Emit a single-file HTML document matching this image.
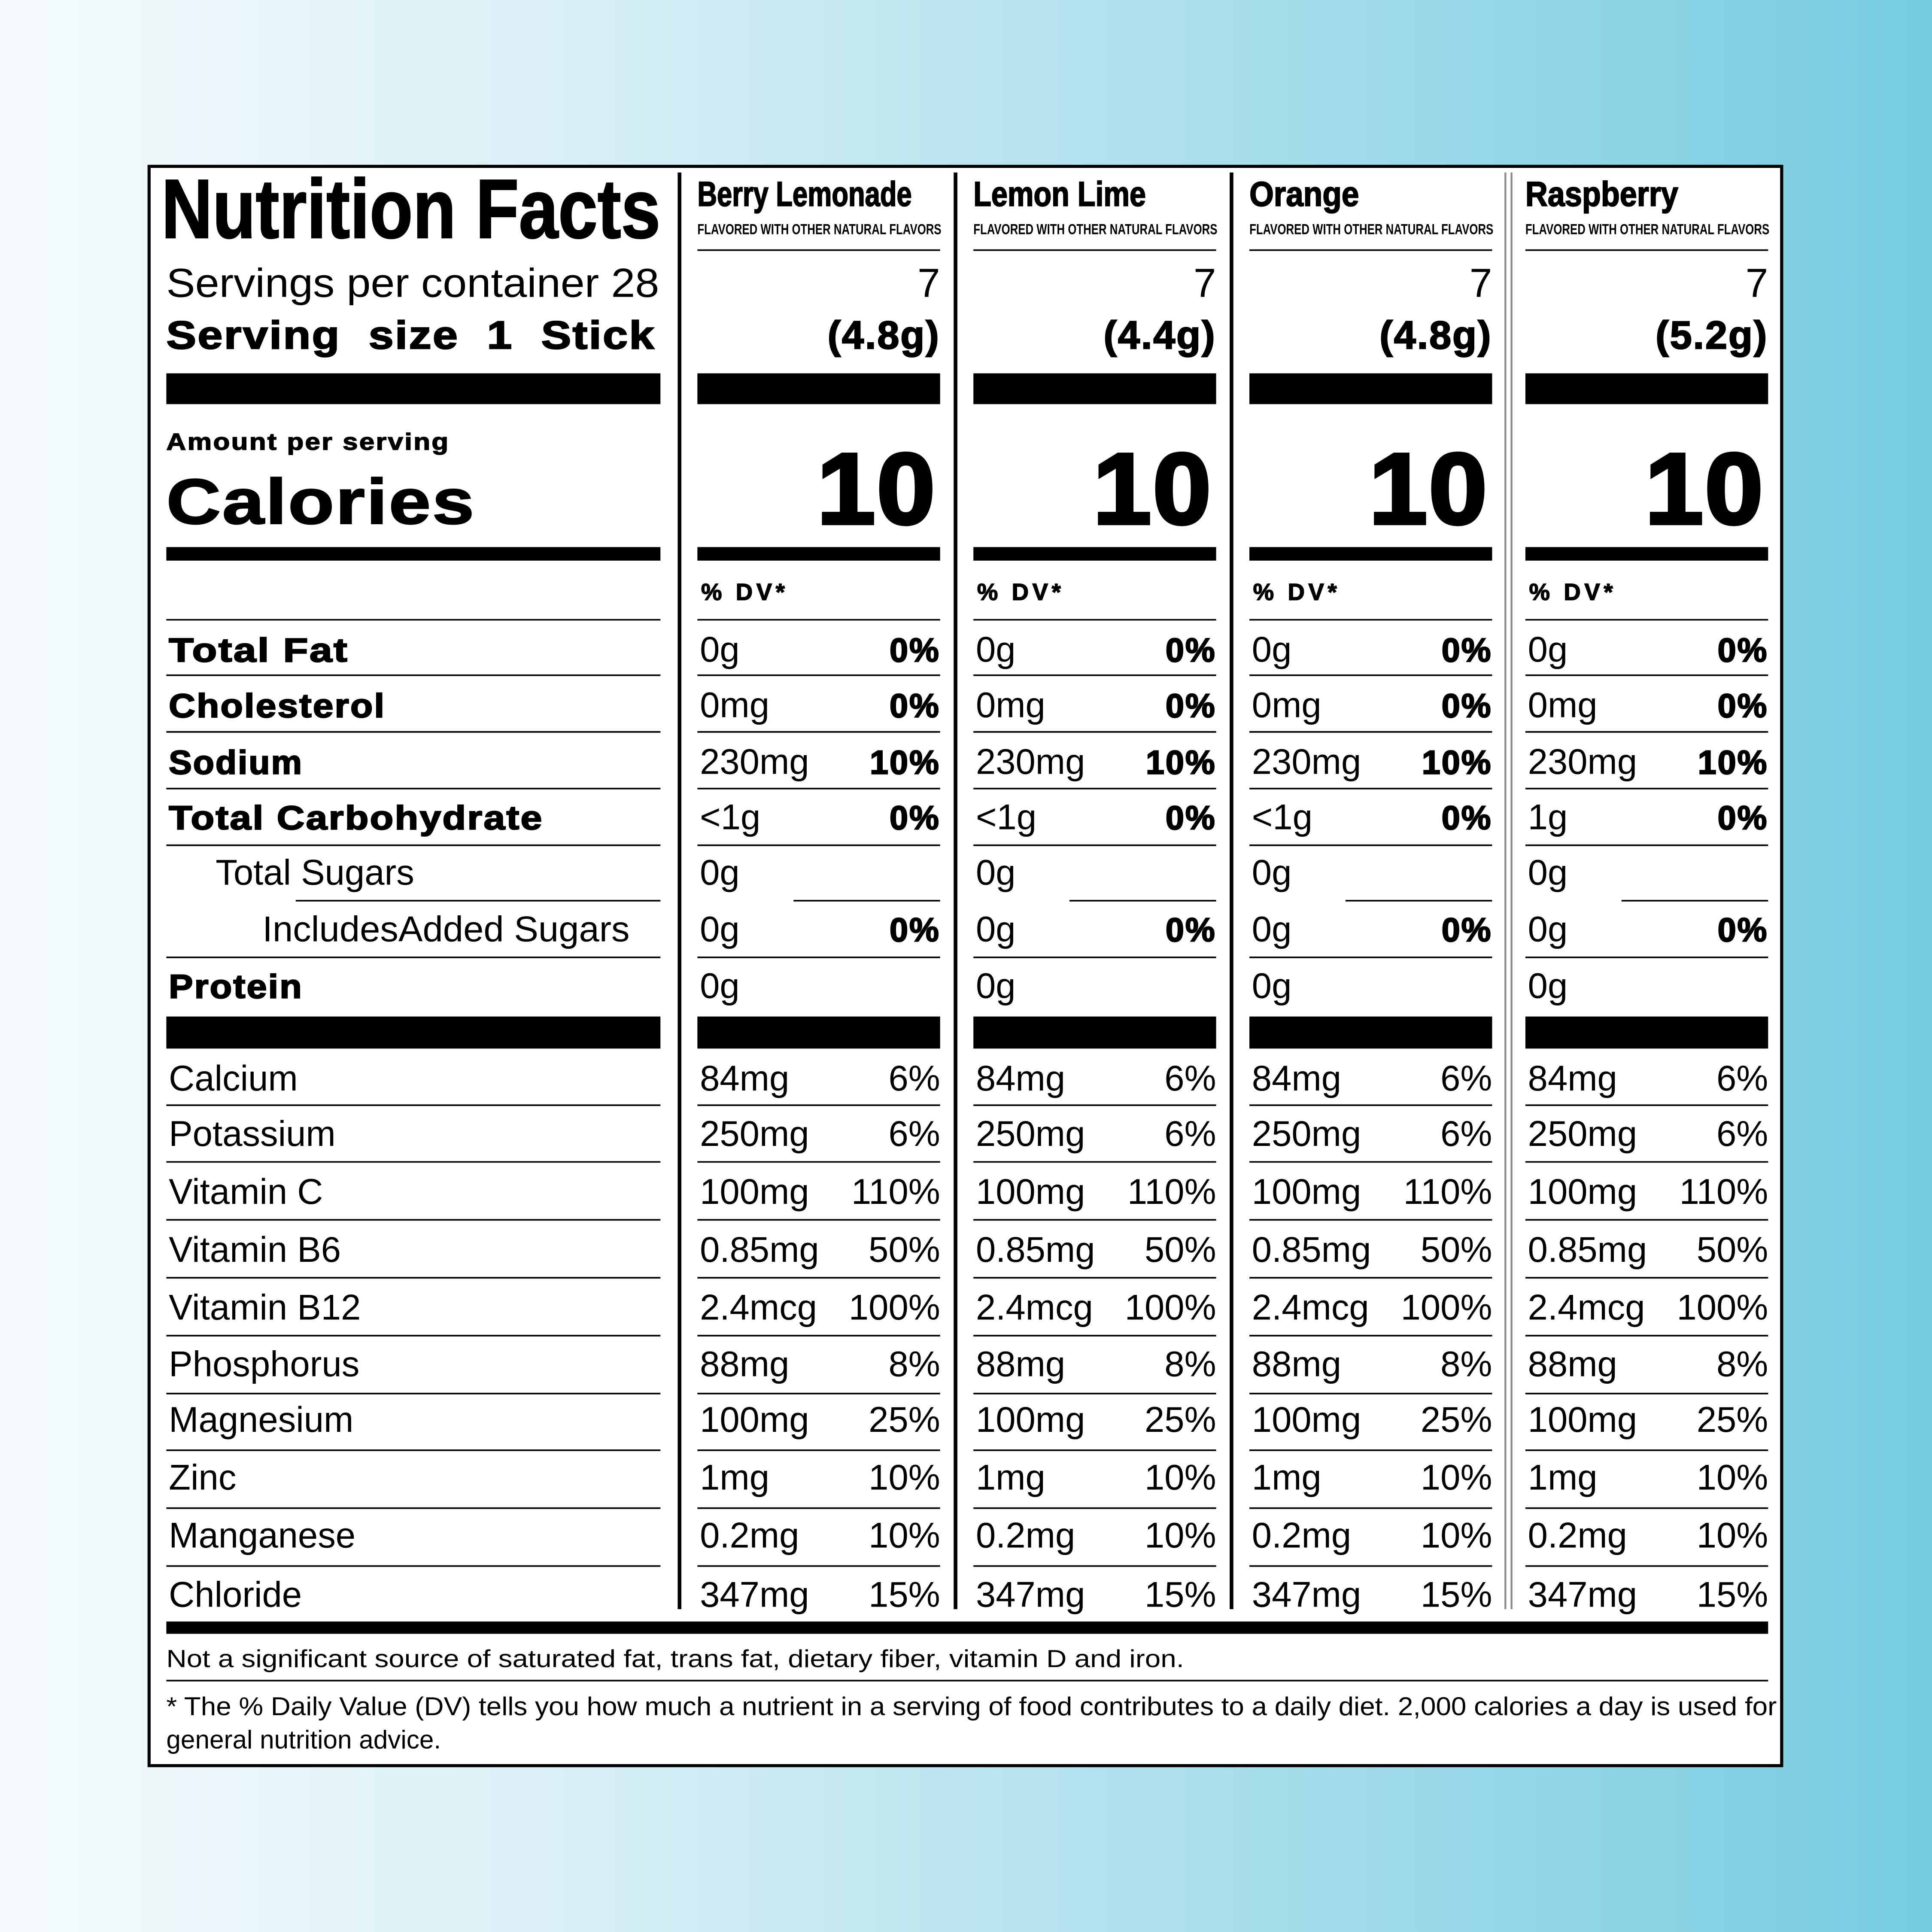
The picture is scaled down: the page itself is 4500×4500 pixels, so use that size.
<!DOCTYPE html>
<html><head><meta charset="utf-8"><style>
html,body{margin:0;padding:0;width:4500px;height:4500px;overflow:hidden}
svg{display:block}
text{font-family:"Liberation Sans",Arial,sans-serif;fill:#000}
.b{font-weight:bold;stroke:#000;stroke-width:0.9px;letter-spacing:1px}
.hd{font-family:"Liberation Sans Narrow","Liberation Sans",sans-serif;font-weight:bold}
.v{font-size:29px}
.e{text-anchor:end}
</style></head><body>
<svg width="4500" height="4500" viewBox="0 0 1568 1568" xmlns="http://www.w3.org/2000/svg">
<defs><linearGradient id="g" x1="0" y1="0" x2="1" y2="0"><stop offset="0" stop-color="#f6fbfd"/><stop offset="0.3" stop-color="#d8eff6"/><stop offset="1" stop-color="#76cce0"/></linearGradient></defs>
<rect width="1568" height="1568" fill="url(#g)"/>
<rect x="121" y="135" width="1325" height="1298" fill="#fff" stroke="#000" stroke-width="2.5"/>

<text x="131" y="193" class="hd" font-size="68" textLength="405" lengthAdjust="spacingAndGlyphs" style="stroke:#000;stroke-width:1px">Nutrition Facts</text>
<text x="135" y="241" font-size="33" textLength="400" lengthAdjust="spacingAndGlyphs">Servings per container 28</text>
<text x="135" y="283" class="b" font-size="32" textLength="397" lengthAdjust="spacingAndGlyphs" style="word-spacing:10px">Serving size  1 Stick</text>
<rect x="135" y="303" width="401" height="25"/>
<text x="135" y="365" class="b" font-size="19" textLength="230" lengthAdjust="spacingAndGlyphs" style="stroke-width:0.6px">Amount per serving</text>
<text x="135" y="425" class="b" font-size="52" textLength="251" lengthAdjust="spacingAndGlyphs">Calories</text>
<rect x="135" y="444" width="401" height="11"/>

<g stroke="#000" stroke-width="1.3">
<line x1="135" y1="503" x2="536" y2="503"/><line x1="135" y1="548" x2="536" y2="548"/><line x1="135" y1="594" x2="536" y2="594"/><line x1="135" y1="640" x2="536" y2="640"/><line x1="135" y1="686" x2="536" y2="686"/><line x1="240" y1="731" x2="536" y2="731"/><line x1="135" y1="777" x2="536" y2="777"/>
<line x1="135" y1="897" x2="536" y2="897"/><line x1="135" y1="943" x2="536" y2="943"/><line x1="135" y1="990" x2="536" y2="990"/><line x1="135" y1="1037" x2="536" y2="1037"/><line x1="135" y1="1084" x2="536" y2="1084"/><line x1="135" y1="1131" x2="536" y2="1131"/><line x1="135" y1="1177" x2="536" y2="1177"/><line x1="135" y1="1224" x2="536" y2="1224"/><line x1="135" y1="1271" x2="536" y2="1271"/>
<line x1="135" y1="1364" x2="1435" y2="1364"/>
</g>
<rect x="135" y="825" width="401" height="26"/>
<g class="b" font-size="27">
<text x="137" y="537" textLength="146" lengthAdjust="spacingAndGlyphs">Total Fat</text>
<text x="137" y="582" textLength="176" lengthAdjust="spacingAndGlyphs">Cholesterol</text>
<text x="137" y="628" textLength="109" lengthAdjust="spacingAndGlyphs">Sodium</text>
<text x="137" y="673" textLength="304" lengthAdjust="spacingAndGlyphs">Total Carbohydrate</text>
<text x="137" y="810" textLength="109" lengthAdjust="spacingAndGlyphs">Protein</text>
</g>
<g class="v">
<text x="175" y="718">Total Sugars</text>
<text x="213" y="764" textLength="298" lengthAdjust="spacingAndGlyphs">IncludesAdded Sugars</text>
<text x="137" y="885">Calcium</text><text x="137" y="930">Potassium</text><text x="137" y="977">Vitamin C</text><text x="137" y="1024">Vitamin B6</text><text x="137" y="1071">Vitamin B12</text><text x="137" y="1117">Phosphorus</text><text x="137" y="1162">Magnesium</text><text x="137" y="1209">Zinc</text><text x="137" y="1256">Manganese</text><text x="137" y="1304">Chloride</text>
</g>
<rect x="135" y="1316" width="1300" height="10"/>
<text x="135" y="1353" font-size="20" textLength="826" lengthAdjust="spacingAndGlyphs">Not a significant source of saturated fat, trans fat, dietary fiber, vitamin D and iron.</text>
<text x="135" y="1392" font-size="21" textLength="1307" lengthAdjust="spacingAndGlyphs">* The % Daily Value (DV) tells you how much a nutrient in a serving of food contributes to a daily diet. 2,000 calories a day is used for</text>
<text x="135" y="1419" font-size="21">general nutrition advice.</text>

<rect x="550" y="140" width="3" height="1166"/>
<rect x="774" y="140" width="3" height="1166"/>
<rect x="998" y="140" width="3" height="1166"/>
<rect x="1221" y="140" width="1.5" height="1166" fill="#888"/>
<rect x="1226" y="140" width="1.5" height="1166" fill="#888"/>

<g style="stroke:#000;stroke-width:0.8px">
<text x="566" y="167" class="hd" font-size="28" textLength="174" lengthAdjust="spacingAndGlyphs">Berry Lemonade</text>
<text x="790" y="167" class="hd" font-size="28" textLength="140" lengthAdjust="spacingAndGlyphs">Lemon Lime</text>
<text x="1014" y="167" class="hd" font-size="28" textLength="89" lengthAdjust="spacingAndGlyphs">Orange</text>
<text x="1238" y="167" class="hd" font-size="28" textLength="124" lengthAdjust="spacingAndGlyphs">Raspberry</text>
</g>

<g transform="translate(566,0)">
<text x="0" y="190" class="hd" font-size="12" textLength="198" lengthAdjust="spacingAndGlyphs" font-weight="normal">FLAVORED WITH OTHER NATURAL FLAVORS</text>
<line x1="0" y1="203" x2="197" y2="203" stroke="#000" stroke-width="1.3"/>
<text x="197" y="241" class="e" font-size="33">7</text>
<text x="197" y="283" class="e b" font-size="32">(4.8g)</text>
<rect x="0" y="303" width="197" height="25"/>
<text x="194" y="425" class="e b" font-size="82" textLength="97" lengthAdjust="spacingAndGlyphs" style="stroke-width:2.5px">10</text>
<rect x="0" y="444" width="197" height="11"/>
<text x="3" y="487" class="b" font-size="19" style="letter-spacing:3px;stroke-width:0.6px">% DV*</text>
<g stroke="#000" stroke-width="1.3"><line x1="0" y1="503" x2="197" y2="503"/><line x1="0" y1="548" x2="197" y2="548"/><line x1="0" y1="594" x2="197" y2="594"/><line x1="0" y1="640" x2="197" y2="640"/><line x1="0" y1="686" x2="197" y2="686"/><line x1="78" y1="731" x2="197" y2="731"/><line x1="0" y1="777" x2="197" y2="777"/><line x1="0" y1="897" x2="197" y2="897"/><line x1="0" y1="943" x2="197" y2="943"/><line x1="0" y1="990" x2="197" y2="990"/><line x1="0" y1="1037" x2="197" y2="1037"/><line x1="0" y1="1084" x2="197" y2="1084"/><line x1="0" y1="1131" x2="197" y2="1131"/><line x1="0" y1="1177" x2="197" y2="1177"/><line x1="0" y1="1224" x2="197" y2="1224"/><line x1="0" y1="1271" x2="197" y2="1271"/></g>
<rect x="0" y="825" width="197" height="26"/>
<g class="v"><text x="2" y="537">0g</text><text x="2" y="582">0mg</text><text x="2" y="628">230mg</text><text x="2" y="673">&lt;1g</text><text x="2" y="718">0g</text><text x="2" y="764">0g</text><text x="2" y="810">0g</text>
<text x="2" y="885">84mg</text><text x="2" y="930">250mg</text><text x="2" y="977">100mg</text><text x="2" y="1024">0.85mg</text><text x="2" y="1071">2.4mcg</text><text x="2" y="1117">88mg</text><text x="2" y="1162">100mg</text><text x="2" y="1209">1mg</text><text x="2" y="1256">0.2mg</text><text x="2" y="1304">347mg</text>
<text x="197" y="885" class="e">6%</text><text x="197" y="930" class="e">6%</text><text x="197" y="977" class="e">110%</text><text x="197" y="1024" class="e">50%</text><text x="197" y="1071" class="e">100%</text><text x="197" y="1117" class="e">8%</text><text x="197" y="1162" class="e">25%</text><text x="197" y="1209" class="e">10%</text><text x="197" y="1256" class="e">10%</text><text x="197" y="1304" class="e">15%</text></g>
<g class="b e" font-size="27"><text x="197" y="537">0%</text><text x="197" y="582">0%</text><text x="197" y="628">10%</text><text x="197" y="673">0%</text><text x="197" y="764">0%</text></g>
</g>

<g transform="translate(790,0)">
<text x="0" y="190" class="hd" font-size="12" textLength="198" lengthAdjust="spacingAndGlyphs" font-weight="normal">FLAVORED WITH OTHER NATURAL FLAVORS</text>
<line x1="0" y1="203" x2="197" y2="203" stroke="#000" stroke-width="1.3"/>
<text x="197" y="241" class="e" font-size="33">7</text>
<text x="197" y="283" class="e b" font-size="32">(4.4g)</text>
<rect x="0" y="303" width="197" height="25"/>
<text x="194" y="425" class="e b" font-size="82" textLength="97" lengthAdjust="spacingAndGlyphs" style="stroke-width:2.5px">10</text>
<rect x="0" y="444" width="197" height="11"/>
<text x="3" y="487" class="b" font-size="19" style="letter-spacing:3px;stroke-width:0.6px">% DV*</text>
<g stroke="#000" stroke-width="1.3"><line x1="0" y1="503" x2="197" y2="503"/><line x1="0" y1="548" x2="197" y2="548"/><line x1="0" y1="594" x2="197" y2="594"/><line x1="0" y1="640" x2="197" y2="640"/><line x1="0" y1="686" x2="197" y2="686"/><line x1="78" y1="731" x2="197" y2="731"/><line x1="0" y1="777" x2="197" y2="777"/><line x1="0" y1="897" x2="197" y2="897"/><line x1="0" y1="943" x2="197" y2="943"/><line x1="0" y1="990" x2="197" y2="990"/><line x1="0" y1="1037" x2="197" y2="1037"/><line x1="0" y1="1084" x2="197" y2="1084"/><line x1="0" y1="1131" x2="197" y2="1131"/><line x1="0" y1="1177" x2="197" y2="1177"/><line x1="0" y1="1224" x2="197" y2="1224"/><line x1="0" y1="1271" x2="197" y2="1271"/></g>
<rect x="0" y="825" width="197" height="26"/>
<g class="v"><text x="2" y="537">0g</text><text x="2" y="582">0mg</text><text x="2" y="628">230mg</text><text x="2" y="673">&lt;1g</text><text x="2" y="718">0g</text><text x="2" y="764">0g</text><text x="2" y="810">0g</text>
<text x="2" y="885">84mg</text><text x="2" y="930">250mg</text><text x="2" y="977">100mg</text><text x="2" y="1024">0.85mg</text><text x="2" y="1071">2.4mcg</text><text x="2" y="1117">88mg</text><text x="2" y="1162">100mg</text><text x="2" y="1209">1mg</text><text x="2" y="1256">0.2mg</text><text x="2" y="1304">347mg</text>
<text x="197" y="885" class="e">6%</text><text x="197" y="930" class="e">6%</text><text x="197" y="977" class="e">110%</text><text x="197" y="1024" class="e">50%</text><text x="197" y="1071" class="e">100%</text><text x="197" y="1117" class="e">8%</text><text x="197" y="1162" class="e">25%</text><text x="197" y="1209" class="e">10%</text><text x="197" y="1256" class="e">10%</text><text x="197" y="1304" class="e">15%</text></g>
<g class="b e" font-size="27"><text x="197" y="537">0%</text><text x="197" y="582">0%</text><text x="197" y="628">10%</text><text x="197" y="673">0%</text><text x="197" y="764">0%</text></g>
</g>

<g transform="translate(1014,0)">
<text x="0" y="190" class="hd" font-size="12" textLength="198" lengthAdjust="spacingAndGlyphs" font-weight="normal">FLAVORED WITH OTHER NATURAL FLAVORS</text>
<line x1="0" y1="203" x2="197" y2="203" stroke="#000" stroke-width="1.3"/>
<text x="197" y="241" class="e" font-size="33">7</text>
<text x="197" y="283" class="e b" font-size="32">(4.8g)</text>
<rect x="0" y="303" width="197" height="25"/>
<text x="194" y="425" class="e b" font-size="82" textLength="97" lengthAdjust="spacingAndGlyphs" style="stroke-width:2.5px">10</text>
<rect x="0" y="444" width="197" height="11"/>
<text x="3" y="487" class="b" font-size="19" style="letter-spacing:3px;stroke-width:0.6px">% DV*</text>
<g stroke="#000" stroke-width="1.3"><line x1="0" y1="503" x2="197" y2="503"/><line x1="0" y1="548" x2="197" y2="548"/><line x1="0" y1="594" x2="197" y2="594"/><line x1="0" y1="640" x2="197" y2="640"/><line x1="0" y1="686" x2="197" y2="686"/><line x1="78" y1="731" x2="197" y2="731"/><line x1="0" y1="777" x2="197" y2="777"/><line x1="0" y1="897" x2="197" y2="897"/><line x1="0" y1="943" x2="197" y2="943"/><line x1="0" y1="990" x2="197" y2="990"/><line x1="0" y1="1037" x2="197" y2="1037"/><line x1="0" y1="1084" x2="197" y2="1084"/><line x1="0" y1="1131" x2="197" y2="1131"/><line x1="0" y1="1177" x2="197" y2="1177"/><line x1="0" y1="1224" x2="197" y2="1224"/><line x1="0" y1="1271" x2="197" y2="1271"/></g>
<rect x="0" y="825" width="197" height="26"/>
<g class="v"><text x="2" y="537">0g</text><text x="2" y="582">0mg</text><text x="2" y="628">230mg</text><text x="2" y="673">&lt;1g</text><text x="2" y="718">0g</text><text x="2" y="764">0g</text><text x="2" y="810">0g</text>
<text x="2" y="885">84mg</text><text x="2" y="930">250mg</text><text x="2" y="977">100mg</text><text x="2" y="1024">0.85mg</text><text x="2" y="1071">2.4mcg</text><text x="2" y="1117">88mg</text><text x="2" y="1162">100mg</text><text x="2" y="1209">1mg</text><text x="2" y="1256">0.2mg</text><text x="2" y="1304">347mg</text>
<text x="197" y="885" class="e">6%</text><text x="197" y="930" class="e">6%</text><text x="197" y="977" class="e">110%</text><text x="197" y="1024" class="e">50%</text><text x="197" y="1071" class="e">100%</text><text x="197" y="1117" class="e">8%</text><text x="197" y="1162" class="e">25%</text><text x="197" y="1209" class="e">10%</text><text x="197" y="1256" class="e">10%</text><text x="197" y="1304" class="e">15%</text></g>
<g class="b e" font-size="27"><text x="197" y="537">0%</text><text x="197" y="582">0%</text><text x="197" y="628">10%</text><text x="197" y="673">0%</text><text x="197" y="764">0%</text></g>
</g>

<g transform="translate(1238,0)">
<text x="0" y="190" class="hd" font-size="12" textLength="198" lengthAdjust="spacingAndGlyphs" font-weight="normal">FLAVORED WITH OTHER NATURAL FLAVORS</text>
<line x1="0" y1="203" x2="197" y2="203" stroke="#000" stroke-width="1.3"/>
<text x="197" y="241" class="e" font-size="33">7</text>
<text x="197" y="283" class="e b" font-size="32">(5.2g)</text>
<rect x="0" y="303" width="197" height="25"/>
<text x="194" y="425" class="e b" font-size="82" textLength="97" lengthAdjust="spacingAndGlyphs" style="stroke-width:2.5px">10</text>
<rect x="0" y="444" width="197" height="11"/>
<text x="3" y="487" class="b" font-size="19" style="letter-spacing:3px;stroke-width:0.6px">% DV*</text>
<g stroke="#000" stroke-width="1.3"><line x1="0" y1="503" x2="197" y2="503"/><line x1="0" y1="548" x2="197" y2="548"/><line x1="0" y1="594" x2="197" y2="594"/><line x1="0" y1="640" x2="197" y2="640"/><line x1="0" y1="686" x2="197" y2="686"/><line x1="78" y1="731" x2="197" y2="731"/><line x1="0" y1="777" x2="197" y2="777"/><line x1="0" y1="897" x2="197" y2="897"/><line x1="0" y1="943" x2="197" y2="943"/><line x1="0" y1="990" x2="197" y2="990"/><line x1="0" y1="1037" x2="197" y2="1037"/><line x1="0" y1="1084" x2="197" y2="1084"/><line x1="0" y1="1131" x2="197" y2="1131"/><line x1="0" y1="1177" x2="197" y2="1177"/><line x1="0" y1="1224" x2="197" y2="1224"/><line x1="0" y1="1271" x2="197" y2="1271"/></g>
<rect x="0" y="825" width="197" height="26"/>
<g class="v"><text x="2" y="537">0g</text><text x="2" y="582">0mg</text><text x="2" y="628">230mg</text><text x="2" y="673">1g</text><text x="2" y="718">0g</text><text x="2" y="764">0g</text><text x="2" y="810">0g</text>
<text x="2" y="885">84mg</text><text x="2" y="930">250mg</text><text x="2" y="977">100mg</text><text x="2" y="1024">0.85mg</text><text x="2" y="1071">2.4mcg</text><text x="2" y="1117">88mg</text><text x="2" y="1162">100mg</text><text x="2" y="1209">1mg</text><text x="2" y="1256">0.2mg</text><text x="2" y="1304">347mg</text>
<text x="197" y="885" class="e">6%</text><text x="197" y="930" class="e">6%</text><text x="197" y="977" class="e">110%</text><text x="197" y="1024" class="e">50%</text><text x="197" y="1071" class="e">100%</text><text x="197" y="1117" class="e">8%</text><text x="197" y="1162" class="e">25%</text><text x="197" y="1209" class="e">10%</text><text x="197" y="1256" class="e">10%</text><text x="197" y="1304" class="e">15%</text></g>
<g class="b e" font-size="27"><text x="197" y="537">0%</text><text x="197" y="582">0%</text><text x="197" y="628">10%</text><text x="197" y="673">0%</text><text x="197" y="764">0%</text></g>
</g>
</svg>
</body></html>
